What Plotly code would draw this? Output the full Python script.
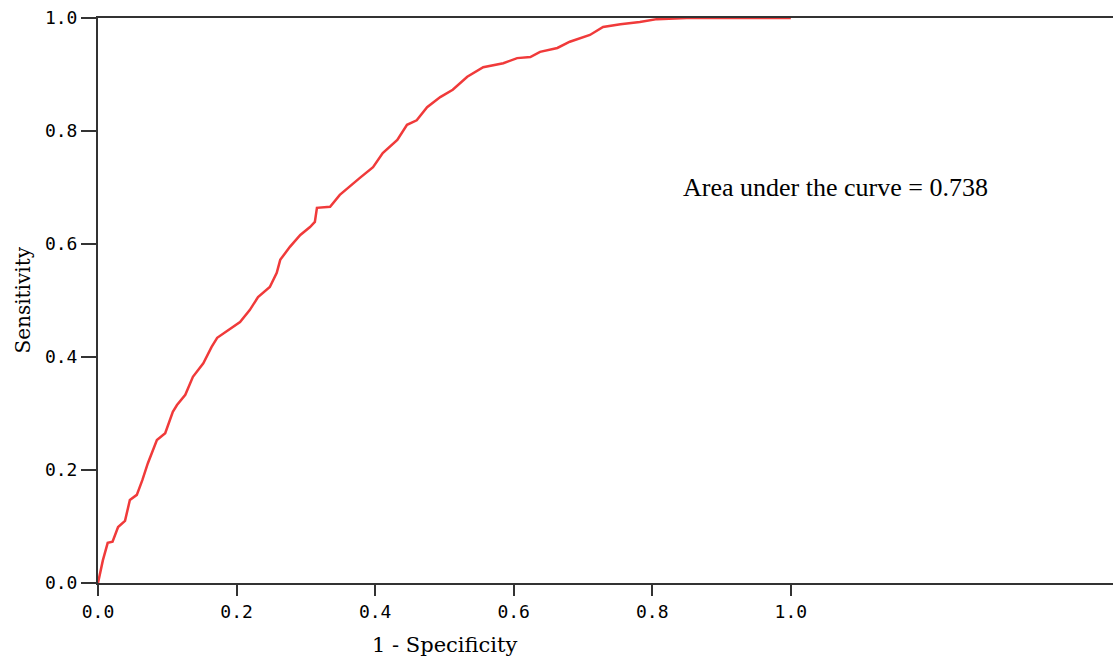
import plotly.graph_objects as go

# ROC curve points (1 - specificity, sensitivity)
fpr = [0.0, 0.007, 0.014, 0.021, 0.029, 0.039, 0.046, 0.056, 0.064, 0.072, 0.085, 0.097,
       0.108, 0.114, 0.126, 0.137, 0.152, 0.164, 0.172, 0.191, 0.205, 0.219, 0.231, 0.248,
       0.258, 0.263, 0.277, 0.292, 0.306, 0.313, 0.316, 0.335, 0.349, 0.378, 0.397, 0.411,
       0.432, 0.446, 0.460, 0.475, 0.494, 0.512, 0.533, 0.556, 0.585, 0.605, 0.624, 0.638,
       0.663, 0.681, 0.710, 0.729, 0.754, 0.782, 0.807, 0.850, 1.0]
tpr = [0.0, 0.040, 0.071, 0.073, 0.099, 0.110, 0.147, 0.156, 0.182, 0.212, 0.253, 0.265,
       0.303, 0.315, 0.333, 0.365, 0.389, 0.418, 0.434, 0.451, 0.462, 0.483, 0.506, 0.524,
       0.549, 0.572, 0.595, 0.616, 0.630, 0.639, 0.664, 0.666, 0.687, 0.717, 0.736, 0.761,
       0.784, 0.811, 0.819, 0.842, 0.860, 0.873, 0.896, 0.913, 0.920, 0.929, 0.931, 0.940,
       0.947, 0.958, 0.970, 0.984, 0.989, 0.993, 0.998, 1.0, 1.0]

tick_vals = [0.0, 0.2, 0.4, 0.6, 0.8, 1.0]
tick_text = ["0.0", "0.2", "0.4", "0.6", "0.8", "1.0"]
auc_text = "Area under the curve = 0.738"

axis_col = "#333333"
tick_font = dict(family="DejaVu Sans Mono", size=18, color="black")

fig = go.Figure()
fig.add_trace(go.Scatter(x=fpr, y=tpr, mode="lines",
                         line=dict(color="#f03a3a", width=2.5), showlegend=False,
                         hoverinfo="skip"))

fig.update_layout(
    width=1113, height=657,
    margin=dict(l=98, r=0, t=18, b=74),
    paper_bgcolor="white", plot_bgcolor="white",
    xaxis=dict(range=[0, 1.465], tickvals=tick_vals, ticktext=tick_text,
               showline=True, linecolor=axis_col, linewidth=2, mirror=True,
               ticks="outside", ticklen=11, tickwidth=2, tickcolor=axis_col,
               showgrid=False, zeroline=False, tickfont=tick_font),
    yaxis=dict(range=[0, 1.0], tickvals=tick_vals, ticktext=tick_text,
               showline=True, linecolor=axis_col, linewidth=2,
               ticks="outside", ticklen=15, tickwidth=2, tickcolor=axis_col,
               showgrid=False, zeroline=False, tickfont=tick_font),
    annotations=[
        dict(text=auc_text, x=1.065, y=0.70, xref="x", yref="y", showarrow=False,
             font=dict(family="Liberation Serif", size=26, color="black"),
             xanchor="center", yanchor="middle"),
        dict(text="1 - Specificity", x=0.5, y=0, xref="x", yref="paper", showarrow=False,
             yshift=-62, xanchor="center", yanchor="middle",
             font=dict(family="DejaVu Serif", size=21, color="black")),
        dict(text="Sensitivity", x=0, y=0.5, xref="paper", yref="paper", showarrow=False,
             xshift=-76, textangle=-90, xanchor="center", yanchor="middle",
             font=dict(family="DejaVu Serif", size=20, color="black")),
    ],
)

fig.write_html("out.html")
